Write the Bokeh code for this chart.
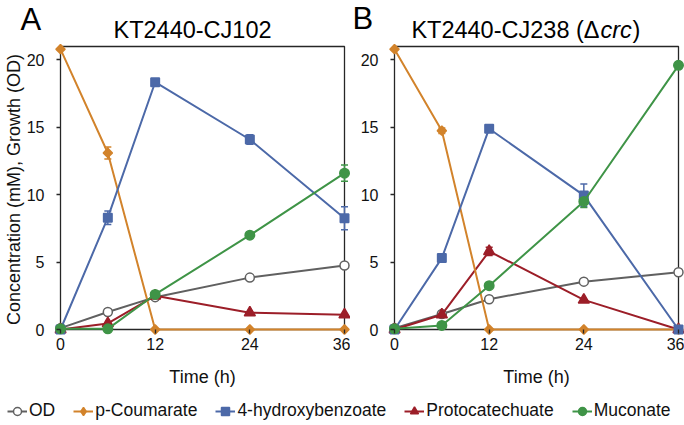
import numpy as np
from bokeh.plotting import figure
from bokeh.models import (Range1d, FixedTicker, BoxAnnotation, Whisker, TeeHead,
                          ColumnDataSource, Legend, LegendItem)
from bokeh.core.properties import value
from bokeh.layouts import column, row
from bokeh.embed import file_html
from bokeh.resources import INLINE

# ---------------- data ----------------
time_h = [0, 6, 12, 24, 36]
x_ticks = [0, 12, 24, 36]
y_ticks = [0, 5, 10, 15, 20]
series_names = ["OD", "p-Coumarate", "4-hydroxybenzoate", "Protocatechuate", "Muconate"]

# Panel A: KT2440-CJ102
a_od = [0.1, 1.3, 2.4, 3.85, 4.75]
a_od_err = [0, 0, 0, 0, 0]
a_pcou = [20.8, 13.1, 0, 0, 0]
a_pcou_err = [0, 0.45, 0, 0, 0]
a_hba = [0.0, 8.3, 18.35, 14.1, 8.25]
a_hba_err = [0, 0.5, 0.2, 0.35, 0.85]
a_pca = [0.0, 0.45, 2.5, 1.25, 1.1]
a_pca_err = [0, 0, 0, 0, 0]
a_muc = [0.05, 0.05, 2.6, 7.0, 11.6]
a_muc_err = [0, 0, 0, 0, 0.6]

# Panel B: KT2440-CJ238 (delta crc)
b_od = [0.1, 1.15, 2.25, 3.55, 4.25]
b_od_err = [0, 0, 0, 0, 0]
b_pcou = [20.8, 14.75, 0, 0, 0]
b_pcou_err = [0, 0.2, 0, 0, 0]
b_hba = [0.0, 5.3, 14.9, 9.95, 0.0]
b_hba_err = [0, 0.3, 0.25, 0.85, 0]
b_pca = [0.0, 1.1, 5.8, 2.2, 0.0]
b_pca_err = [0, 0, 0.3, 0, 0]
b_muc = [0.05, 0.3, 3.25, 9.5, 19.6]
b_muc_err = [0, 0, 0, 0.45, 0]

X_MAX = 36
Y_MAX = 21

# ---------------- styles / geometry ----------------
FONT = "Liberation Sans"
AX = "#262626"
styles = [
    dict(color="#606060", marker="circle", size=9, fill="white", angle=0.0),
    dict(color="#D2832B", marker="square", size=6.5, fill="#D2832B", angle=np.pi / 4),
    dict(color="#4C69A8", marker="square", size=8.5, fill="#4C69A8", angle=0.0),
    dict(color="#9C1E28", marker="triangle", size=11, fill="#9C1E28", angle=0.0),
    dict(color="#3F9447", marker="circle", size=9.5, fill="#3F9447", angle=0.0),
]
legend_markers = [("circle", 9), ("diamond", 11), ("square", 8.5), ("triangle", 11), ("circle", 9.5)]
draw_order = [0, 3, 1, 2, 4]     # OD, PCA, p-Coumarate, 4-HBA, Muconate

BOX_W, BOX_H = 284, 283          # pixel size of the 0..36 x 0..21 box
PAD_L, PAD_R, PAD_B, PAD_T = 6, 6, 6, 3
FW, FH = BOX_W + PAD_L + PAD_R, BOX_H + PAD_B + PAD_T
PXH = BOX_W / X_MAX
PXV = BOX_H / Y_MAX
A_LEFT, B_LEFT = 44, 38          # min borders left of each frame
HEADER_H = 43


def make_panel(values, errors, min_left, ylabel=None):
    p = figure(frame_width=FW, frame_height=FH,
               x_range=Range1d(-PAD_L / PXH, X_MAX + PAD_R / PXH),
               y_range=Range1d(-PAD_B / PXV, Y_MAX + PAD_T / PXV),
               output_backend="svg", toolbar_location=None,
               min_border_left=min_left, min_border_right=0,
               min_border_top=0, min_border_bottom=54,
               outline_line_color=None, background_fill_color="white",
               border_fill_color="white")
    p.grid.visible = False
    for ax, pad in ((p.xaxis[0], PAD_B), (p.yaxis[0], PAD_L)):
        ax.axis_line_color = None
        ax.major_tick_line_color = AX
        ax.major_tick_line_width = 1.3
        ax.major_tick_in = pad
        ax.major_tick_out = -(pad - 4)
        ax.minor_tick_line_color = None
        ax.major_label_text_font = FONT
        ax.major_label_text_font_size = "16px"
        ax.major_label_text_color = "#111111"
    p.xaxis.ticker = FixedTicker(ticks=x_ticks)
    p.yaxis.ticker = FixedTicker(ticks=y_ticks)
    p.xaxis.major_label_standoff = 2
    p.yaxis.major_label_standoff = 10
    p.xaxis.axis_label = "Time (h)"
    p.xaxis.axis_label_text_font = FONT
    p.xaxis.axis_label_text_font_size = "18px"
    p.xaxis.axis_label_text_font_style = "normal"
    p.xaxis.axis_label_text_color = "#111111"
    p.xaxis.axis_label_standoff = 14
    if ylabel:
        p.yaxis.axis_label = ylabel
        p.yaxis.axis_label_text_font = FONT
        p.yaxis.axis_label_text_font_size = "18px"
        p.yaxis.axis_label_text_font_style = "normal"
        p.yaxis.axis_label_text_color = "#111111"
        p.yaxis.axis_label_standoff = 0

    box = BoxAnnotation(left=0, right=X_MAX, bottom=0, top=Y_MAX, fill_color=None,
                        fill_alpha=0, line_color=AX, line_alpha=1.0, line_width=1.3,
                        level="underlay")
    p.add_layout(box)

    for i in draw_order:
        vals, errs, st = values[i], errors[i], styles[i]
        p.line(time_h, vals, line_color=st["color"], line_width=2)
        ex = [t for t, e in zip(time_h, errs) if e > 0]
        if ex:
            up = [v + e for v, e in zip(vals, errs) if e > 0]
            lo = [v - e for v, e in zip(vals, errs) if e > 0]
            src = ColumnDataSource(dict(x=ex, upper=up, lower=lo))
            w = Whisker(base="x", upper="upper", lower="lower", source=src,
                        line_color=st["color"], line_width=1.5,
                        upper_head=TeeHead(size=7, line_color=st["color"], line_width=1.5),
                        lower_head=TeeHead(size=7, line_color=st["color"], line_width=1.5))
            p.add_layout(w)
        p.scatter(time_h, vals, marker=st["marker"], size=st["size"], angle=st["angle"],
                  fill_color=st["fill"], line_color=st["color"], line_width=1.5)
    return p


pA = make_panel([a_od, a_pcou, a_hba, a_pca, a_muc],
                [a_od_err, a_pcou_err, a_hba_err, a_pca_err, a_muc_err],
                A_LEFT, ylabel="Concentration (mM), Growth (OD)")
pB = make_panel([b_od, b_pcou, b_hba, b_pca, b_muc],
                [b_od_err, b_pcou_err, b_hba_err, b_pca_err, b_muc_err],
                B_LEFT)

# ---------------- header (panel letters and titles) ----------------
TOTAL_W = A_LEFT + FW + B_LEFT + FW + 2
hdr = figure(width=TOTAL_W, height=HEADER_H, x_range=Range1d(0, TOTAL_W),
             y_range=Range1d(0, HEADER_H), toolbar_location=None, output_backend="svg",
             min_border=0, outline_line_color=None, x_axis_type=None, y_axis_type=None)
hdr.grid.visible = False
a_box0 = A_LEFT + PAD_L                       # header x of box A's left edge
b_box0 = A_LEFT + FW + B_LEFT + PAD_L         # header x of box B's left edge
base_y = 13.5
TFS = "23.5px"
hdr.text(x=[a_box0 - 30, b_box0 - 32], y=[24, 25], text=["A", "B"],
         text_font=value(FONT), text_font_size="31px", text_color="black",
         text_align="left", text_baseline="alphabetic")
hdr.text(x=[a_box0 + BOX_W / 2], y=[base_y], text=["KT2440-CJ102"],
         text_font=value(FONT), text_font_size=TFS, text_color="black",
         text_align="center", text_baseline="alphabetic")
bc = b_box0 + BOX_W / 2
hdr.text(x=[bc + 73], y=[base_y], text=["KT2440-CJ238 (\u0394"],
         text_font=value(FONT), text_font_size=TFS, text_color="black",
         text_align="right", text_baseline="alphabetic")
hdr.text(x=[bc + 74], y=[base_y], text=["crc"],
         text_font=value(FONT), text_font_size=TFS, text_color="black",
         text_font_style="italic", text_align="left", text_baseline="alphabetic")
hdr.text(x=[bc + 106], y=[base_y], text=[")"],
         text_font=value(FONT), text_font_size=TFS, text_color="black",
         text_align="left", text_baseline="alphabetic")

# ---------------- legend ----------------
leg = figure(width=TOTAL_W, height=32, x_range=Range1d(100, 101), y_range=Range1d(100, 101),
             toolbar_location=None, output_backend="svg", min_border=0,
             outline_line_color=None, x_axis_type=None, y_axis_type=None)
leg.grid.visible = False
items = []
for name, vals, st, (mk, ms) in zip(series_names, [a_od, a_pcou, a_hba, a_pca, a_muc],
                                    styles, legend_markers):
    r1 = leg.line(time_h, vals, line_color=st["color"], line_width=2)
    r2 = leg.scatter(time_h, vals, marker=mk, size=ms,
                     fill_color=st["fill"], line_color=st["color"], line_width=1.5)
    items.append(LegendItem(label=name, renderers=[r1, r2]))
legend = Legend(items=items, orientation="horizontal", location=(7, 0),
                padding=0, margin=0, spacing=18, glyph_width=20, glyph_height=20,
                label_standoff=2, label_height=20, label_text_font=FONT,
                label_text_font_size="17.5px", label_text_color="#111111",
                background_fill_alpha=0, border_line_alpha=0)
leg.add_layout(legend)

layout = column(hdr, row(pA, pB), leg)
open("out.html", "w").write(file_html(layout, INLINE))
